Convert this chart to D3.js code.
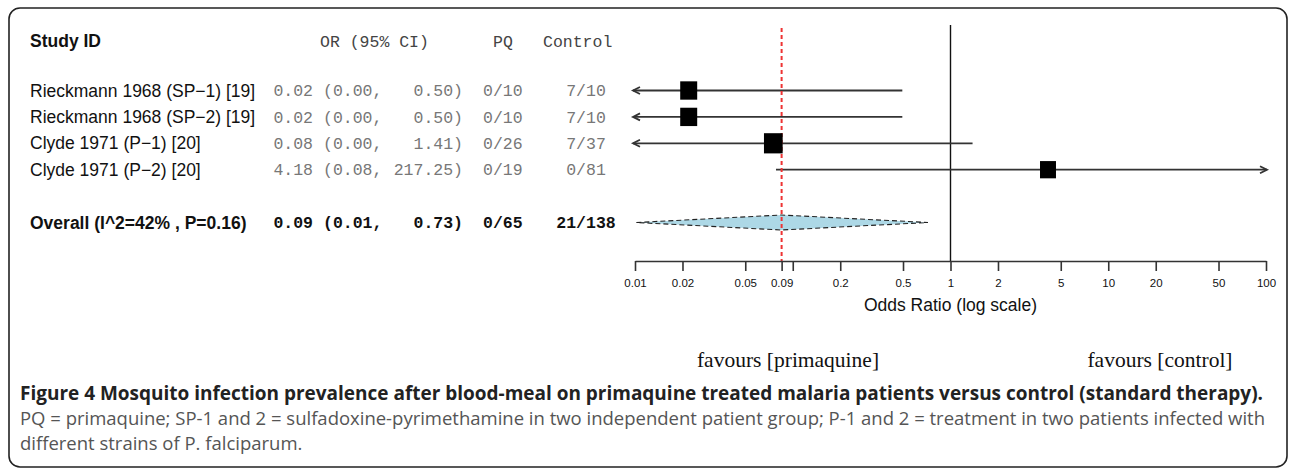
<!DOCTYPE html>
<html><head><meta charset="utf-8">
<script src="https://cdn.jsdelivr.net/npm/d3@7"></script>
<style>body{margin:0;background:#fff}svg{display:block}</style>
</head><body><svg id="c" width="1292" height="469"></svg>
<script>
// ---------- data ----------
const studies   = ["Rieckmann 1968 (SP\u22121) [19]", "Rieckmann 1968 (SP\u22122) [19]", "Clyde 1971 (P\u22121) [20]", "Clyde 1971 (P\u22122) [20]"];
const orEst     = [0.0219, 0.0219, 0.0753, 4.15];
const ciLow     = [0.0009, 0.0009, 0.004, 0.0783];
const ciHigh    = [0.495, 0.495, 1.38, 217.25];
const weights   = [24.4, 24.4, 29.6, 21.6];
const orText    = ["0.02", "0.02", "0.08", "4.18"];
const lowText   = ["(0.00,", "(0.00,", "(0.00,", "(0.08,"];
const highText  = ["0.50)", "0.50)", "1.41)", "217.25)"];
const pqText    = ["0/10", "0/10", "0/26", "0/19"];
const ctrlText  = ["7/10", "7/10", "7/37", "0/81"];
const overallLabel = "Overall (I^2=42% , P=0.16)";
const overallEst = 0.085, overallLow = 0.0102, overallHigh = 0.72;
const overallText = ["0.09", "(0.01,", "0.73)", "0/65", "21/138"];
const headers = ["Study ID", "OR (95% CI)", "PQ", "Control"];
const tickVals  = [0.01, 0.02, 0.05, 0.085, 0.1, 0.2, 0.5, 1, 2, 5, 10, 20, 50, 100];
const tickLabels= ["0.01", "0.02", "0.05", "0.09", "", "0.2", "0.5", "1", "2", "5", "10", "20", "50", "100"];
const axisTitle = "Odds Ratio (log scale)";
const favours = ["favours [primaquine]", "favours [control]"];
const caption1 = "Figure 4 Mosquito infection prevalence after blood-meal on primaquine treated malaria patients versus control (standard therapy).";
const caption2 = "PQ = primaquine; SP-1 and 2 = sulfadoxine-pyrimethamine in two independent patient group; P-1 and 2 = treatment in two patients infected with";
const caption3 = "different strains of P. falciparum.";

// ---------- drawing ----------
const svg = d3.select("#c");
svg.append("rect").attr("x", 9).attr("y", 8).attr("width", 1278).attr("height", 459)
  .attr("rx", 11).attr("fill", "none").attr("stroke", "#222").attr("stroke-width", 1.6);

const x = d3.scaleLog().domain([0.01, 100]).range([635, 1266]);
const y = d3.scaleLinear().domain([0, 5]).range([90.5, 222.5]);
const box = d3.scaleSqrt().domain([0, d3.max(weights)]).range([0, 18.7]);
const axisY = 261, headerY = 41;

const sans = "'Liberation Sans', Arial, Helvetica, sans-serif";
const mono = "'Liberation Mono', 'Courier New', monospace";

// header
svg.append("text").attr("x", 30).attr("y", headerY).attr("dy", "0.35em")
  .attr("font-family", sans).attr("font-weight", "bold").attr("font-size", 17.5)
  .attr("fill", "#111").text(headers[0]);
const hm = svg.append("g").attr("font-family", mono).attr("font-size", 16.5).attr("fill", "#444");
hm.append("text").attr("x", 320).attr("y", headerY).attr("dy", "0.35em").text(headers[1]);
hm.append("text").attr("x", 493).attr("y", headerY).attr("dy", "0.35em").text(headers[2]);
hm.append("text").attr("x", 543).attr("y", headerY).attr("dy", "0.35em").text(headers[3]);

// study labels
const labG = svg.append("g").attr("font-family", sans).attr("font-size", 17.5).attr("fill", "#111");
studies.forEach((s, i) => {
  labG.append("text").attr("x", 30).attr("y", y(i)).attr("dy", "0.35em").text(s);
});
labG.append("text").attr("x", 30).attr("y", y(5)).attr("dy", "0.35em")
  .attr("font-weight", "bold").text(overallLabel);

// numeric columns
function numRow(g, vals, yy) {
  g.append("text").attr("x", 313).attr("y", yy).attr("dy", "0.35em").attr("text-anchor", "end").text(vals[0]);
  g.append("text").attr("x", 323).attr("y", yy).attr("dy", "0.35em").text(vals[1]);
  g.append("text").attr("x", 463).attr("y", yy).attr("dy", "0.35em").attr("text-anchor", "end").text(vals[2]);
  g.append("text").attr("x", 483).attr("y", yy).attr("dy", "0.35em").text(vals[3]);
  g.append("text").attr("x", 586).attr("y", yy).attr("dy", "0.35em").attr("text-anchor", "middle").text(vals[4]);
}
const numG = svg.append("g").attr("font-family", mono).attr("font-size", 16.5).attr("fill", "#777");
studies.forEach((s, i) => numRow(numG, [orText[i], lowText[i], highText[i], pqText[i], ctrlText[i]], y(i)));
const numO = svg.append("g").attr("font-family", mono).attr("font-size", 16.5).attr("fill", "#111").attr("font-weight", "bold");
numRow(numO, overallText, y(5));

// reference line at OR = 1
svg.append("line").attr("x1", x(1)).attr("x2", x(1)).attr("y1", 25).attr("y2", axisY)
  .attr("stroke", "#111").attr("stroke-width", 1.4);

// CI lines
const ciG = svg.append("g").attr("stroke", "#333").attr("stroke-width", 1.8).attr("fill", "none");
studies.forEach((s, i) => {
  const yy = y(i);
  const lo = ciLow[i] < 0.01 ? x(0.01) - 2 : x(ciLow[i]);
  const hi = ciHigh[i] > 100 ? x(100) + 1 : x(ciHigh[i]);
  ciG.append("line").attr("x1", lo).attr("x2", hi).attr("y1", yy).attr("y2", yy);
  if (ciLow[i] < 0.01) ciG.append("path").attr("d", `M${lo + 7},${yy - 3.5}L${lo},${yy}L${lo + 7},${yy + 3.5}`);
  if (ciHigh[i] > 100) ciG.append("path").attr("d", `M${hi - 7},${yy - 3.5}L${hi},${yy}L${hi - 7},${yy + 3.5}`);
});

// diamond
const dy = y(5);
svg.append("path")
  .attr("d", `M${x(overallLow)},${dy}L${x(overallEst)},${dy - 7.5}L${x(overallHigh)},${dy}L${x(overallEst)},${dy + 7.5}Z`)
  .attr("fill", "#add8e6").attr("stroke", "#222").attr("stroke-width", 1.1).attr("stroke-dasharray", "5,3");

// red dashed overall line
svg.append("line").attr("x1", x(overallEst)).attr("x2", x(overallEst)).attr("y1", 28).attr("y2", axisY)
  .attr("stroke", "#ee3333").attr("stroke-width", 2).attr("stroke-dasharray", "4,3");

// boxes
studies.forEach((s, i) => {
  const sz = box(weights[i]);
  svg.append("rect").attr("x", x(orEst[i]) - sz / 2).attr("y", y(i) - sz * 0.54)
    .attr("width", sz).attr("height", sz * 1.08).attr("fill", "#000");
});

// axis
const ax = svg.append("g").attr("transform", `translate(0,${axisY})`)
  .call(d3.axisBottom(x).tickValues(tickVals).tickFormat((d, i) => tickLabels[i]).tickSize(10).tickSizeOuter(0).tickPadding(8));
ax.select(".domain").attr("stroke", "#333").attr("stroke-width", 1.6);
ax.selectAll(".tick line").attr("stroke", "#333").attr("stroke-width", 1.6);
ax.selectAll(".tick text").attr("font-family", sans).attr("font-size", 11.5).attr("fill", "#111");
svg.append("text").attr("x", x(1)).attr("y", 311).attr("text-anchor", "middle")
  .attr("font-family", sans).attr("font-size", 17.5).attr("fill", "#111").text(axisTitle);

// favours
const serif = "'Liberation Serif', 'Times New Roman', serif";
svg.append("text").attr("x", 788).attr("y", 367).attr("text-anchor", "middle")
  .attr("font-family", serif).attr("font-size", 21.5).attr("fill", "#111").text(favours[0]);
svg.append("text").attr("x", 1160).attr("y", 367).attr("text-anchor", "middle")
  .attr("font-family", serif).attr("font-size", 21.5).attr("fill", "#111").text(favours[1]);

// caption
const capFont = "'Open Sans', 'Noto Sans', sans-serif";
svg.append("text").attr("x", 20).attr("y", 400).attr("font-family", capFont).attr("font-weight", "bold")
  .attr("font-size", 19).attr("fill", "#222").attr("textLength", 1243).attr("lengthAdjust", "spacingAndGlyphs").text(caption1);
const c2 = svg.append("text").attr("x", 20).attr("y", 425).attr("font-family", capFont)
  .attr("font-size", 18).attr("fill", "#555").text(caption2);
const c3 = svg.append("text").attr("x", 20).attr("y", 450).attr("font-family", capFont)
  .attr("font-size", 18).attr("fill", "#555").text(caption3);
const ratio = 1245 / c2.node().getComputedTextLength();
c2.attr("textLength", 1245).attr("lengthAdjust", "spacingAndGlyphs");
c3.attr("textLength", c3.node().getComputedTextLength() * ratio).attr("lengthAdjust", "spacingAndGlyphs");
</script></body></html>
